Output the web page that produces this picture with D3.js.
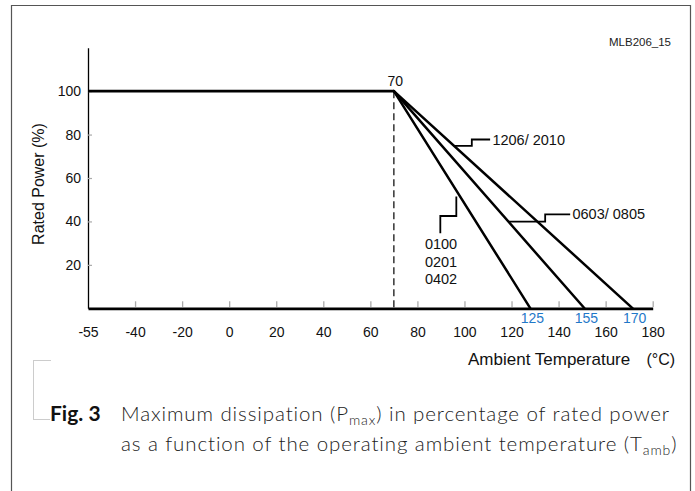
<!DOCTYPE html>
<html>
<head>
<meta charset="utf-8">
<script src="https://cdn.jsdelivr.net/npm/d3@7"></script>
<style>
  html, body { margin: 0; padding: 0; background: #fff; }
  svg { display: block; }
</style>
</head>
<body>
<svg id="chart" width="695" height="491"></svg>
<script>
// ---------- data ----------
const xTickValues = [-55, -40, -20, 0, 20, 40, 60, 80, 100, 120, 140, 160, 180];
const yTickValues = [20, 40, 60, 80, 100];
const kneeTemp = 70;          // derating starts here
const ratedLevel = 100;       // % of rated power
const minTemp = -55;
const seriesNames = ["0100/0201/0402", "0603/0805", "1206/2010"];
const seriesEndTemps = [128, 151, 171.5];   // where the drawn lines reach 0 %
const seriesEndLabels = ["125", "155", "170"];
const leaderAnchorTemps = [97.6, 118.7, 95.6];   // point on each line where its label leader starts

// ---------- layout ----------
const W = 695, H = 491;
const plotLeft = 88, plotRight = 652.7, plotBottom = 308.3, plotTop = 47.7;
const step = (plotRight - plotLeft) / (xTickValues.length - 1);

const svg = d3.select("#chart");
const x = d3.scaleLinear()
  .domain([xTickValues[0], xTickValues[1], xTickValues[xTickValues.length - 1]])
  .range([plotLeft, plotLeft + step, plotRight]);
const y = d3.scaleLinear().domain([0, 120]).range([plotBottom, plotTop]);

const FONT = "'Liberation Sans', Arial, Helvetica, sans-serif";

// frame
svg.append("path")
  .attr("d", `M11.5,${H} V5.5 H690.5 V${H}`)
  .attr("fill", "none").attr("stroke", "#555").attr("stroke-width", 1.2);

// ID label
svg.append("text").attr("x", 609).attr("y", 45.5)
  .attr("font-family", FONT).attr("font-size", 11.5).attr("fill", "#222")
  .text("MLB206_15");

// x axis
const xAxis = d3.axisBottom(x).tickValues(xTickValues)
  .tickSizeInner(-7).tickSizeOuter(0).tickPadding(18.3)
  .tickFormat(d => String(d));
const gx = svg.append("g").attr("transform", `translate(0,${plotBottom})`).call(xAxis);
gx.select(".domain").attr("stroke", "#000").attr("stroke-width", 2.7);
gx.selectAll(".tick line").attr("stroke", "#aaa").attr("stroke-width", 1.3)
  .attr("y1", -1.4);
gx.selectAll(".tick").filter(d => d === minTemp).select("line").remove();
gx.selectAll(".tick text").attr("font-family", FONT).attr("font-size", 14).attr("fill", "#111");

// y axis
const yAxis = d3.axisLeft(y).tickValues(yTickValues)
  .tickSizeInner(-4).tickSizeOuter(0).tickPadding(7);
const gy = svg.append("g").attr("transform", `translate(${plotLeft},0)`).call(yAxis);
gy.select(".domain").attr("stroke", "#000").attr("stroke-width", 1.3);
gy.selectAll(".tick line").attr("stroke", "#aaa").attr("stroke-width", 1.2);
gy.selectAll(".tick text").attr("font-family", FONT).attr("font-size", 14).attr("fill", "#111");

// y axis title
svg.append("text")
  .attr("transform", `translate(43.5,${(y(60) + 6)}) rotate(-90)`)
  .attr("text-anchor", "middle")
  .attr("font-family", FONT).attr("font-size", 16).attr("fill", "#111")
  .text("Rated Power (%)");

// x axis title
svg.append("text").attr("x", 468).attr("y", 365)
  .attr("font-family", FONT).attr("font-size", 17).attr("fill", "#111")
  .text("Ambient Temperature");
svg.append("text").attr("x", 646.5).attr("y", 365)
  .attr("font-family", FONT).attr("font-size", 16).attr("fill", "#111")
  .text("(°C)");

// dashed knee line
svg.append("line")
  .attr("x1", x(kneeTemp)).attr("x2", x(kneeTemp))
  .attr("y1", y(ratedLevel)).attr("y2", y(0))
  .attr("stroke", "#000").attr("stroke-width", 1.2)
  .attr("stroke-dasharray", "7,4");

// knee label
svg.append("text").attr("x", x(kneeTemp) + 1.5).attr("y", y(ratedLevel) - 5.5)
  .attr("text-anchor", "middle")
  .attr("font-family", FONT).attr("font-size", 14).attr("fill", "#111")
  .text(String(kneeTemp));

// flat 100 % line
const line = d3.line().x(d => x(d[0])).y(d => y(d[1]));
svg.append("path")
  .attr("d", line([[minTemp, ratedLevel], [kneeTemp, ratedLevel]]))
  .attr("fill", "none").attr("stroke", "#000").attr("stroke-width", 2.7);

// derating lines
seriesEndTemps.forEach((t, i) => {
  svg.append("path")
    .attr("d", line([[kneeTemp, ratedLevel], [t, 0]]))
    .attr("fill", "none").attr("stroke", "#000").attr("stroke-width", 2.5)
    .attr("stroke-linecap", "round");
  svg.append("text")
    .attr("x", x(t) + 2).attr("y", plotBottom + 15)
    .attr("text-anchor", "middle")
    .attr("font-family", FONT).attr("font-size", 14).attr("fill", "#1f78c8")
    .text(seriesEndLabels[i]);
});

function onLine(i, t) {
  const p = ratedLevel * (1 - (t - kneeTemp) / (seriesEndTemps[i] - kneeTemp));
  return [x(t), y(p)];
}

const leaderStyle = s => s.attr("fill", "none").attr("stroke", "#000").attr("stroke-width", 1.8);
const lblFont = 14.5;

// 1206/2010 leader (line index 2)
{
  const [ax, ay] = onLine(2, leaderAnchorTemps[2]);
  svg.append("path").call(leaderStyle)
    .attr("d", `M${ax},${ay} h17.7 v-6.4 h18.3`);
  svg.append("text").attr("x", ax + 38.3).attr("y", ay - 6.4).attr("dy", "0.35em")
    .attr("font-family", FONT).attr("font-size", lblFont).attr("fill", "#111")
    .text("1206/ 2010");
}
// 0603/0805 leader (line index 1)
{
  const [ax, ay] = onLine(1, leaderAnchorTemps[1]);
  svg.append("path").call(leaderStyle)
    .attr("d", `M${ax},${ay} h36.7 v-7.3 h25`);
  svg.append("text").attr("x", ax + 64).attr("y", ay - 7.3).attr("dy", "0.35em")
    .attr("font-family", FONT).attr("font-size", lblFont).attr("fill", "#111")
    .text("0603/ 0805");
}
// 0100/0201/0402 leader (line index 0)
{
  const [ax, ay] = onLine(0, leaderAnchorTemps[0]);
  const lx = ax - 2.5;
  svg.append("path").call(leaderStyle)
    .attr("d", `M${lx},${ay + 2} V216 h-16 V233.3`);
  const parts = seriesNames[0].split("/");
  parts.forEach((p, k) => {
    svg.append("text").attr("x", lx - 31.4).attr("y", 249 + k * 17.6)
      .attr("font-family", FONT).attr("font-size", lblFont).attr("fill", "#111")
      .text(p);
  });
}

// caption bracket (dotted)
svg.append("path")
  .attr("d", "M50.5,360.5 H33.5 V419.5 H50")
  .attr("fill", "none").attr("stroke", "#999").attr("stroke-width", 1)
  .attr("stroke-dasharray", "1,1");

// caption
const CAP = "Lato, 'Open Sans', sans-serif";
svg.append("text").attr("x", 50).attr("y", 421)
  .attr("font-family", CAP).attr("font-weight", 700).attr("font-size", 21).attr("fill", "#111")
  .text("Fig. 3");
const c1 = svg.append("text").attr("x", 121).attr("y", 421)
  .attr("font-family", CAP).attr("font-weight", 300).attr("font-size", 20.5)
  .attr("letter-spacing", 0.9).attr("fill", "#222");
c1.append("tspan").text("Maximum dissipation (P");
c1.append("tspan").attr("font-size", 14).attr("dy", 4).text("max");
c1.append("tspan").attr("dy", -4).text(") in percentage of rated power");
const c2 = svg.append("text").attr("x", 121).attr("y", 451)
  .attr("font-family", CAP).attr("font-weight", 300).attr("font-size", 20.5)
  .attr("letter-spacing", 0.9).attr("fill", "#222");
c2.append("tspan").text("as a function of the operating ambient temperature (T");
c2.append("tspan").attr("font-size", 14).attr("dy", 4).text("amb");
c2.append("tspan").attr("dy", -4).text(")");
</script>
</body>
</html>
